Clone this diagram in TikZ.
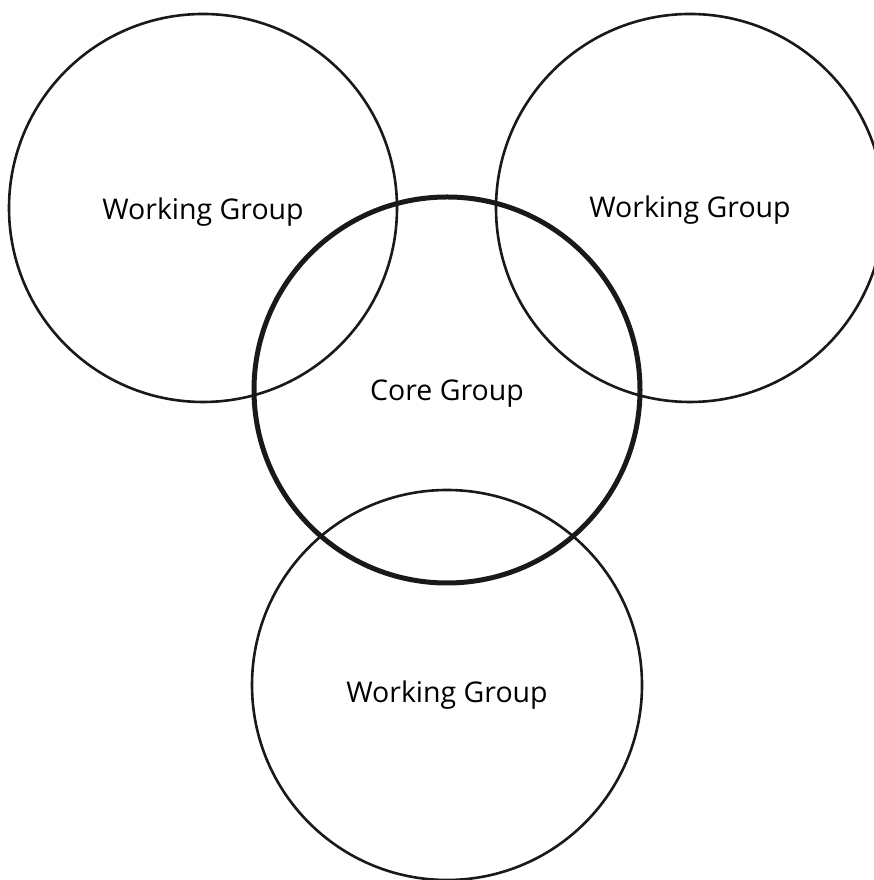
\documentclass[tikz,border=0pt]{standalone}
\usepackage{fontspec}
\setmainfont{Open Sans}
\begin{document}
\begin{tikzpicture}[x=1pt,y=1pt,
  ring/.style={circle,draw=black!90,line width=2.6pt,inner sep=0pt},
  corering/.style={ring,line width=5pt},
  lbl/.style={inner sep=0pt,font=\fontsize{28.5}{33}\selectfont}]
\useasboundingbox (0,0) rectangle (873,880);
\node[ring,minimum size=388pt] (wgtl) at (203,672) {};
\node[ring,minimum size=388pt] (wgtr) at (690,672) {};
\node[ring,minimum size=390pt] (wgb) at (447,195) {};
\node[corering,minimum size=386pt] (core) at (447,490) {};
\node[lbl] (ttl) at (203,668) {Working Group};
\node[lbl] (ttr) at (690,670) {Working Group};
\node[lbl] (tcore) at (447,486) {Core Group};
\node[lbl] (tb) at (447,185) {Working Group};
\end{tikzpicture}
\end{document}
